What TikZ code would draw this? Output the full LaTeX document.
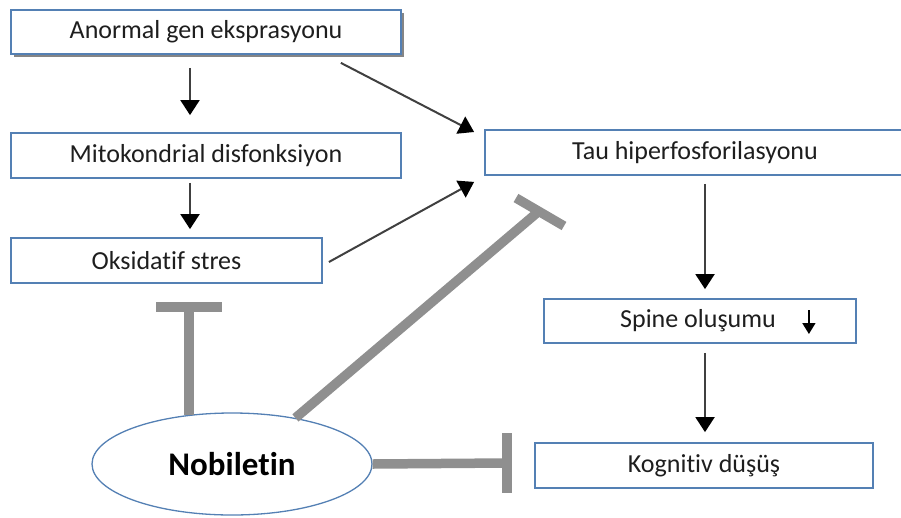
\documentclass[tikz,border=0pt]{standalone}
\usepackage{fontspec}
\setmainfont[Ligatures=NoCommon]{Carlito}
\usetikzlibrary{arrows.meta,shapes.geometric,shadows,calc}
\definecolor{bord}{RGB}{84,128,180}
\definecolor{inhc}{RGB}{143,143,143}
\definecolor{arrc}{RGB}{64,64,64}
\definecolor{txtc}{RGB}{30,30,30}
\begin{document}
\begin{tikzpicture}[x=1pt,y=-1pt,
  box/.style={draw=bord, line width=1.8pt, fill=white, inner sep=0pt,
    minimum height=45pt, text=txtc, font=\fontsize{26}{30}\selectfont},
  txt/.style={text=txtc, inner sep=0pt, font=\fontsize{26}{30}\selectfont},
  arr/.style={draw=arrc, line width=2pt, -{Triangle[width=19pt,length=15pt,fill=black,color=black]}},
  smallarr/.style={draw=black, line width=1.6pt, -{Triangle[width=13pt,length=11pt]}},
  inh/.style={draw=inhc, line width=9.5pt}
]
\useasboundingbox (0,0) rectangle (901,517);

\node[box, minimum width=390pt, minimum height=44pt,
  drop shadow={shadow xshift=3pt, shadow yshift=-3pt, fill=black!60, opacity=0.8}]
  (b1) at (206,32) {Anormal gen eksprasyonu};
\node[box, minimum width=390pt] (b2) at (206,155.5) {Mitokondrial disfonksiyon};
\node[box, minimum width=311pt] (b3) at (166.5,260.5) {Oksidatif stres};
\node[box, minimum width=420pt] (tau) at (695,152.5) {Tau hiperfosforilasyonu};
\node[box, minimum width=312pt, minimum height=44pt] (spine) at (700,321) {};
\node[txt] (spinetxt) at (698,321) {Spine oluşumu};
\node[box, minimum width=338pt] (kog) at (704,465.5) {Kognitiv düşüş};

\node[ellipse, draw=bord, line width=1.3pt, fill=white, inner sep=0pt,
  minimum width=280pt, minimum height=102pt, text=black,
  font=\bfseries\fontsize{33}{36}\selectfont] (nob) at (232,464) {Nobiletin};

% activating arrows
\draw[arr] ([xshift=-16pt,yshift=-13pt]b1.south) -- ([xshift=-16pt,yshift=17pt]b2.north);
\draw[arr] ([xshift=-16pt,yshift=-4pt]b2.south) -- ([xshift=23.5pt,yshift=8pt]b3.north);
\draw[arr] ([xshift=-61pt,yshift=-8pt]b1.south east) -- ([xshift=-10pt,yshift=20.5pt]tau.west);
\draw[arr] ([xshift=6pt,yshift=-1.5pt]b3.east) -- ([xshift=-10pt,yshift=-6pt]tau.south west);
\draw[arr] ([xshift=10pt,yshift=-8pt]tau.south) -- ([xshift=5pt,yshift=9pt]spine.north);
\draw[arr] ([xshift=5pt,yshift=-9pt]spine.south) -- ([xshift=1pt,yshift=10pt]kog.north);
\draw[smallarr] ([xshift=-48pt,yshift=11pt]spine.east) -- ([xshift=-48pt,yshift=-13pt]spine.east);

% inhibitions
\coordinate (i1) at (190,307);
\draw[inh] (nob.131) -- (nob.131 |- i1);
\draw[inh] ([xshift=-33pt]nob.131 |- i1) -- ([xshift=33pt]nob.131 |- i1);

\coordinate (i2) at (538,212);
\draw[inh] (nob.36) -- (i2);
\draw[inh] ($(i2)+(-22,-14)$) -- ($(i2)+(26,14)$);

\coordinate (i3) at (507,463);
\draw[inh] (nob.east) -- (i3);
\draw[inh] ([yshift=30pt]i3) -- ([yshift=-30pt]i3);
\end{tikzpicture}
\end{document}
